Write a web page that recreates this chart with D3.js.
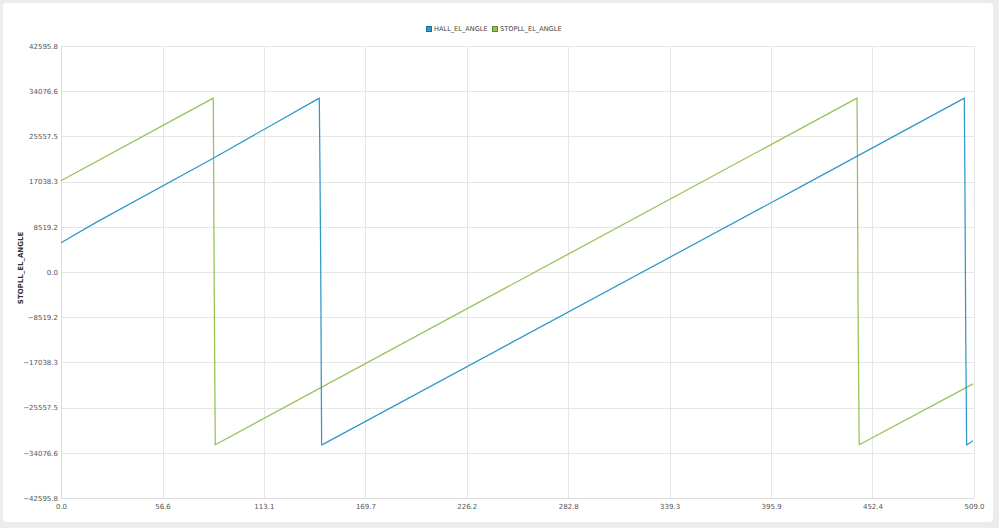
<!DOCTYPE html>
<html>
<head>
<meta charset="utf-8">
<script src="https://cdn.jsdelivr.net/npm/d3@7"></script>
<style>
  html, body { margin: 0; padding: 0; background: #ececec; }
  svg { display: block; }
</style>
</head>
<body>
<svg id="chart" width="999" height="528"></svg>
<script>
// ---- data ----
const seriesNames = ["HALL_EL_ANGLE", "STOPLL_EL_ANGLE"];
const xTicks = [0, 56.6, 113.1, 169.7, 226.2, 282.8, 339.3, 395.9, 452.4, 509.0];
const yTicks = [-42595.8, -34076.6, -25557.5, -17038.3, -8519.2, 0, 8519.2, 17038.3, 25557.5, 34076.6, 42595.8];
const xDomain = [0, 509];
const yDomain = [-42595.8, 42595.8];

// HALL_EL_ANGLE (x, value) breakpoints
const hallX = [0, 20.1, 84.9, 144.0, 144.3, 144.8, 145.3, 146.0, 412.0, 503.6, 503.9, 504.4, 504.9, 508.4];
const hallY = [5500, 9450, 21450, 32766, 22200, 1000, -32600, -32480, 16000, 32766, 19000, -12000, -32600, -31800];

// STOPLL_EL_ANGLE (x, value) breakpoints
const stopX = [0, 84.9, 85.1, 85.4, 86.0, 443.8, 444.0, 444.4, 445.0, 508.5];
const stopY = [17200, 32766, 20000, -2000, -32560, 32766, 21000, -9000, -32560, -21080];

const colors = ["#2f98c9", "#95c255"];
const borderColors = ["#1f6f96", "#5f8a2c"];

// ---- drawing ----
const svg = d3.select("#chart");
const plotL = 61, plotR = 974, plotT = 46, plotB = 498;

svg.append("rect").attr("x", 3).attr("y", 3).attr("width", 990).attr("height", 519)
  .attr("rx", 4).attr("fill", "#ffffff");

const x = d3.scaleLinear().domain(xDomain).range([plotL, plotR]);
const y = d3.scaleLinear().domain(yDomain).range([plotB, plotT]);

const font = "DejaVu Sans, Verdana, sans-serif";

// grid
const gGrid = svg.append("g");
gGrid.selectAll("line.h").data(yTicks).join("line")
  .attr("x1", plotL).attr("x2", plotR)
  .attr("y1", d => Math.round(y(d)) + 0.5).attr("y2", d => Math.round(y(d)) + 0.5)
  .attr("stroke", "#e6e6e6").attr("stroke-width", 1);
gGrid.selectAll("line.v").data(xTicks).join("line")
  .attr("y1", plotT).attr("y2", plotB)
  .attr("x1", d => Math.round(x(d)) + 0.5).attr("x2", d => Math.round(x(d)) + 0.5)
  .attr("stroke", "#e6e6e6").attr("stroke-width", 1);

// axes (labels via d3 axes)
const yAxis = d3.axisLeft(y).tickValues(yTicks).tickSize(0).tickPadding(3)
  .tickFormat(d => d3.format(".1f")(d));
const gy = svg.append("g").attr("transform", `translate(${plotL},0)`).call(yAxis);
gy.select(".domain").attr("stroke", "#dcdcdc");
gy.selectAll("text").attr("font-family", font).attr("font-size", 7).attr("fill", "#555");

const xAxis = d3.axisBottom(x).tickValues(xTicks).tickSize(0).tickPadding(6)
  .tickFormat(d => d3.format(".1f")(d));
const gx = svg.append("g").attr("transform", `translate(0,${plotB})`).call(xAxis);
gx.select(".domain").attr("stroke", "#dcdcdc");
gx.selectAll("text").attr("font-family", font).attr("font-size", 7).attr("fill", "#555");

// y-axis title
svg.append("text")
  .attr("transform", `translate(23,${(plotT + plotB) / 2 - 4}) rotate(-90)`)
  .attr("text-anchor", "middle")
  .attr("font-family", font).attr("font-size", 7).attr("font-weight", "bold").attr("fill", "#333")
  .text("STOPLL_EL_ANGLE");

// lines
const line = d3.line().x(d => x(d[0])).y(d => y(d[1]));
const hall = hallX.map((v, i) => [v, hallY[i]]);
const stop = stopX.map((v, i) => [v, stopY[i]]);
svg.append("path").datum(stop).attr("d", line).attr("fill", "none")
  .attr("stroke", colors[1]).attr("stroke-width", 1.25).attr("stroke-linejoin", "round");
svg.append("path").datum(hall).attr("d", line).attr("fill", "none")
  .attr("stroke", colors[0]).attr("stroke-width", 1.25).attr("stroke-linejoin", "round");

// legend
const legend = svg.append("g").attr("transform", "translate(426,29)");
const legendX = [0, 66];
seriesNames.forEach((name, i) => {
  const g = legend.append("g").attr("transform", `translate(${legendX[i]},0)`);
  g.append("rect").attr("x", 0.5).attr("y", -2.5).attr("width", 5).attr("height", 5)
    .attr("fill", colors[i]).attr("stroke", borderColors[i]).attr("stroke-width", 1);
  g.append("text").attr("x", 8).attr("y", 0).attr("dy", "0.35em")
    .attr("font-family", font).attr("font-size", 6.6).attr("fill", "#444").text(name);
});
</script>
</body>
</html>
